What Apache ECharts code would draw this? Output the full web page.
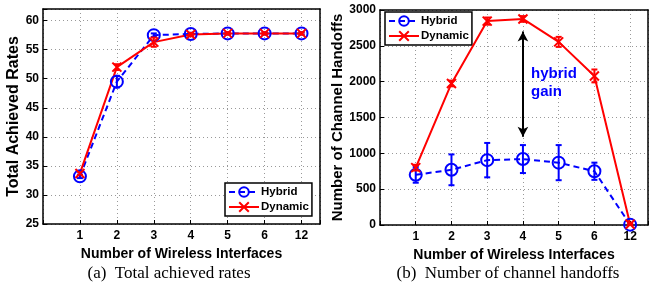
<!DOCTYPE html>
<html>
<head>
<meta charset="utf-8">
<script src="https://cdn.jsdelivr.net/npm/echarts@6/dist/echarts.min.js"></script>
<style>
  html, body { margin: 0; padding: 0; background: #fff; }
  #main { width: 651px; height: 295px; }
</style>
</head>
<body>
<div id="main"></div>
<script>
// tick labels of the x axis (interfaces), drawn at positions 1..7
var categories = ['1', '2', '3', '4', '5', '6', '12'];

// (a) total achieved rates
var rateHybrid = [33.2, 49.5, 57.5, 57.7, 57.8, 57.8, 57.8];
var rateHybridErr = [0.3, 1.0, 0.3, 0.2, 0.2, 0.2, 0.2];
var rateDynamic = [33.7, 52.0, 56.3, 57.6, 57.8, 57.8, 57.8];
var rateDynamicErr = [0.3, 0.5, 0.8, 0.3, 0.2, 0.2, 0.2];

// (b) number of channel handoffs
var handoffHybrid = [700, 770, 905, 920, 870, 750, 5];
var handoffHybridErr = [110, 215, 240, 195, 245, 120, 0];
var handoffDynamic = [800, 1975, 2845, 2875, 2555, 2080, 10];
var handoffDynamicErr = [40, 40, 50, 40, 70, 90, 10];

var BLUE = '#0000ff';
var RED = '#ff0000';
var FONT = 'Liberation Sans';
var XMARK = 'path://M0,0L10,10M10,0L0,10';

function pts(arr) {
    return arr.map(function (v, i) { return [i + 1, v]; });
}
function bars(arr, err) {
    return arr.map(function (v, i) { return [i + 1, v - err[i], v + err[i]]; });
}

function errSeries(name, idx, data, color) {
    return {
        name: name,
        type: 'custom',
        xAxisIndex: idx,
        yAxisIndex: idx,
        data: data,
        clip: false,
        z: 3,
        renderItem: function (params, api) {
            var lo = api.coord([api.value(0), api.value(1)]);
            var hi = api.coord([api.value(0), api.value(2)]);
            var st = { stroke: color, lineWidth: 2 };
            return {
                type: 'group',
                children: [
                    { type: 'line', shape: { x1: lo[0], y1: lo[1], x2: hi[0], y2: hi[1] }, style: st },
                    { type: 'line', shape: { x1: lo[0] - 3, y1: lo[1], x2: lo[0] + 3, y2: lo[1] }, style: st },
                    { type: 'line', shape: { x1: hi[0] - 3, y1: hi[1], x2: hi[0] + 3, y2: hi[1] }, style: st }
                ]
            };
        }
    };
}

function xAxes(idx, name) {
    var base = {
        type: 'value', gridIndex: idx, min: 0, max: 7.5, interval: 1
    };
    var bottom = Object.assign({}, base, {
        position: 'bottom',
        name: name,
        nameLocation: 'middle',
        nameGap: 17,
        nameTextStyle: { fontFamily: FONT, fontWeight: 'bold', fontSize: 14, color: '#000' },
        axisLine: { onZero: false, lineStyle: { color: '#000', width: 1.5 } },
        axisTick: { inside: true, length: 4, lineStyle: { color: '#000' } },
        axisLabel: {
            fontFamily: FONT, fontWeight: 'bold', fontSize: 12, color: '#000', margin: 6,
            formatter: function (v) { return (v >= 1 && v <= 7 && v % 1 === 0) ? categories[v - 1] : ''; }
        },
        splitLine: { show: true, lineStyle: { color: '#999', type: [1, 3], width: 1 } }
    });
    var top = Object.assign({}, base, {
        position: 'top',
        axisLine: { onZero: false, lineStyle: { color: '#000', width: 1.5 } },
        axisTick: { show: false },
        axisLabel: { show: false },
        splitLine: { show: false }
    });
    return [bottom, top];
}

function yAxes(idx, name, min, max, interval, gap, nameSize) {
    var base = { type: 'value', gridIndex: idx, min: min, max: max, interval: interval };
    var left = Object.assign({}, base, {
        position: 'left',
        name: name,
        nameLocation: 'middle',
        nameGap: gap,
        nameTextStyle: { fontFamily: FONT, fontWeight: 'bold', fontSize: nameSize, color: '#000' },
        axisLine: { show: true, onZero: false, lineStyle: { color: '#000', width: 1.5 } },
        axisTick: { show: true, inside: true, length: 4, lineStyle: { color: '#000' } },
        axisLabel: {
            fontFamily: FONT, fontWeight: 'bold', fontSize: 12, color: '#000', margin: 4,
            formatter: function (v) { return v % interval === 0 ? String(v) : ''; }
        },
        splitLine: { show: true, lineStyle: { color: '#999', type: [1, 3], width: 1 } }
    });
    var right = Object.assign({}, base, {
        position: 'right',
        axisLine: { show: true, onZero: false, lineStyle: { color: '#000', width: 1.5 } },
        axisTick: { show: false },
        axisLabel: { show: false },
        splitLine: { show: false }
    });
    return [left, right];
}

var xa = xAxes(0, 'Number of Wireless Interfaces');
var xb = xAxes(1, 'Number of Wireless Interfaces');
var ya = yAxes(0, 'Total Achieved Rates', 25, 62, 5, 20, 16);
var yb = yAxes(1, 'Number of Channel Handoffs', 0, 3000, 500, 34, 15);

function lineSeries(name, idx, data, color, dashed, symbol, size) {
    return {
        name: name,
        type: 'line',
        xAxisIndex: idx * 2,
        yAxisIndex: idx * 2,
        data: data,
        clip: false,
        symbol: symbol,
        symbolSize: size,
        showAllSymbol: true,
        z: 4,
        lineStyle: { color: color, width: 2, type: dashed ? [6, 4] : 'solid' },
        itemStyle: { color: symbol === 'circle' ? 'rgba(0,0,0,0)' : color, borderColor: color, borderWidth: 2 }
    };
}

var hybA = lineSeries('Hybrid', 0, pts(rateHybrid), BLUE, true, 'circle', 12);
var dynA = lineSeries('Dynamic', 0, pts(rateDynamic), RED, false, XMARK, 9);
var hybB = lineSeries('Hybrid', 1, pts(handoffHybrid), BLUE, true, 'circle', 12);
var dynB = lineSeries('Dynamic', 1, pts(handoffDynamic), RED, false, XMARK, 9);

// double arrow showing the hybrid gain at 4 interfaces
dynB.markLine = {
    silent: true,
    symbol: ['arrow', 'arrow'],
    symbolSize: [8, 10],
    lineStyle: { color: '#000', width: 2, type: 'solid' },
    label: { show: false },
    data: [[{ coord: [4, 2700] }, { coord: [4, 1230] }]]
};

var legendBase = {
    data: ['Hybrid', 'Dynamic'],
    orient: 'vertical',
    padding: [3, 3, 3, 3],
    itemGap: 3,
    itemWidth: 30, itemHeight: 12,
    borderColor: '#000', borderWidth: 1.5,
    backgroundColor: '#fff',
    textStyle: { fontFamily: FONT, fontWeight: 'bold', fontSize: 11.5, color: '#000', padding: [0, 0, 0, -3] }
};

var chart = echarts.init(document.getElementById('main'));
chart.setOption({
    animation: false,
    backgroundColor: '#fff',
    textStyle: { fontFamily: FONT },
    grid: [
        { left: 43, top: 9, width: 277, height: 215 },
        { left: 380, top: 10, width: 273, height: 215 }
    ],
    xAxis: [xa[0], xa[1], xb[0], xb[1]],
    yAxis: [ya[0], ya[1], yb[0], yb[1]],
    legend: [
        Object.assign({}, legendBase, { left: 225, top: 183 }),
        Object.assign({}, legendBase, { left: 385, top: 12 })
    ],
    graphic: [
        { type: 'text', left: 531, top: 65, style: { text: 'hybrid\ngain', fill: BLUE, font: 'bold 15px "Liberation Sans"', lineHeight: 18 } },
        { type: 'text', x: 169, y: 274, style: { text: '(a)  Total achieved rates', fill: '#000', font: '17px "Liberation Serif"', textAlign: 'center', textVerticalAlign: 'middle' } },
        { type: 'text', x: 508, y: 274, style: { text: '(b)  Number of channel handoffs', fill: '#000', font: '17px "Liberation Serif"', textAlign: 'center', textVerticalAlign: 'middle' } }
    ],
    series: [
        errSeries('errHybA', 0, bars(rateHybrid, rateHybridErr), BLUE),
        hybA,
        errSeries('errDynA', 0, bars(rateDynamic, rateDynamicErr), RED),
        dynA,
        errSeries('errHybB', 2, bars(handoffHybrid, handoffHybridErr), BLUE),
        hybB,
        errSeries('errDynB', 2, bars(handoffDynamic, handoffDynamicErr), RED),
        dynB
    ]
});
</script>
</body>
</html>
